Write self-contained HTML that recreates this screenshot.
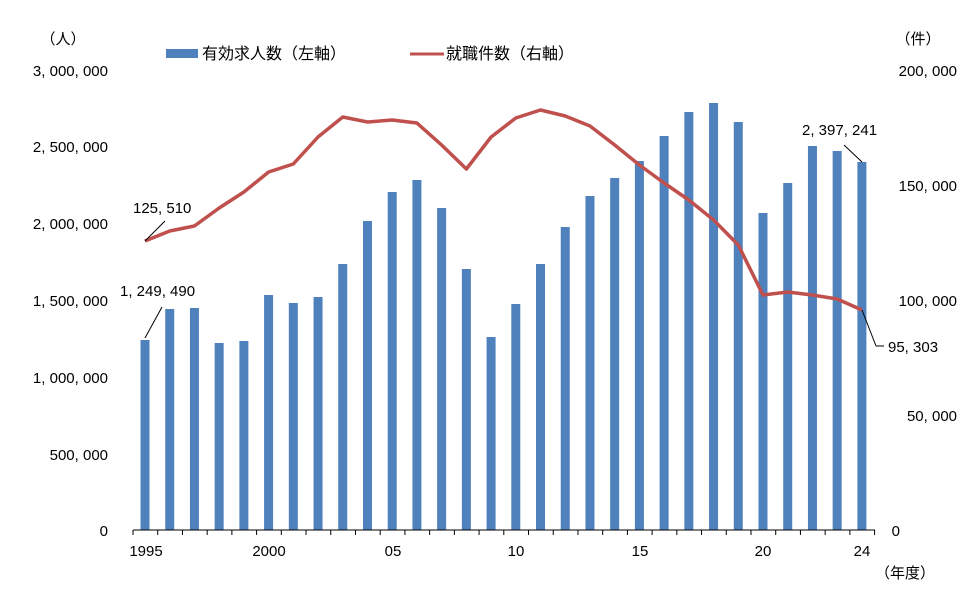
<!DOCTYPE html>
<html><head><meta charset="utf-8"><style>
body{margin:0;background:#fff;}
svg{display:block;font-family:"Liberation Sans","Noto Sans CJK JP",sans-serif;}
</style></head><body>
<svg width="975" height="600" xmlns="http://www.w3.org/2000/svg">
<g font-size="15" fill="#000">
<text x="63" y="44" text-anchor="middle" font-family="Noto Sans CJK JP,sans-serif">（人）</text>
<text x="918" y="44" text-anchor="middle" font-family="Noto Sans CJK JP,sans-serif">（件）</text>
<g text-anchor="end">
<text x="108" y="76">3, 000, 000</text>
<text x="108" y="152">2, 500, 000</text>
<text x="108" y="229">2, 000, 000</text>
<text x="108" y="306">1, 500, 000</text>
<text x="108" y="383">1, 000, 000</text>
<text x="108" y="460">500, 000</text>
<text x="108" y="536">0</text>
</g>
<g text-anchor="end">
<text x="957" y="76">200, 000</text>
<text x="957" y="191">150, 000</text>
<text x="957" y="306">100, 000</text>
<text x="957" y="421">50, 000</text>
<text x="900" y="536">0</text>
</g>
<g text-anchor="middle">
<text x="146" y="556">1995</text>
<text x="269" y="556">2000</text>
<text x="393" y="556">05</text>
<text x="516" y="556">10</text>
<text x="640" y="556">15</text>
<text x="763" y="556">20</text>
<text x="862" y="556">24</text>
</g>
<text x="905" y="578" text-anchor="middle" font-family="Noto Sans CJK JP,sans-serif">（年度）</text>
<rect x="166" y="49" width="32" height="9" fill="#4f81bd"/>
<text x="202" y="59" font-size="16" font-family="Noto Sans CJK JP,sans-serif">有効求人数（左軸）</text>
<line x1="410" y1="54" x2="444" y2="54" stroke="#c0504d" stroke-width="3"/>
<text x="446" y="59" font-size="16" font-family="Noto Sans CJK JP,sans-serif">就職件数（右軸）</text>
</g>
<g id="bars" fill="#4f81bd"></g>
<line x1="133" y1="530" x2="875" y2="530" stroke="#000" stroke-width="1"/>
<g id="ticks" stroke="#000" stroke-width="1"></g>
<polyline id="ln" fill="none" stroke="#c0504d" stroke-width="3.5" stroke-linejoin="round"/>
<g stroke="#000" stroke-width="1">
<line x1="145" y1="241" x2="165" y2="221"/>
<line x1="145" y1="338" x2="162" y2="307"/>
<line x1="862" y1="162" x2="844" y2="145"/>
<line x1="862" y1="310" x2="876" y2="346"/><line x1="876" y1="346" x2="884" y2="346"/>
</g>
<g font-size="15">
<text x="133" y="213">125, 510</text>
<text x="120" y="296">1, 249, 490</text>
<text x="802" y="135">2, 397, 241</text>
<text x="888" y="352">95, 303</text>
</g>
<script>
var tops=[340,309,308,343,341,295,303,297,264,221,192,180,208,269,337,304,264,227,196,178,161,136,112,103,122,213,183,146,151,162];
var ln=[241,231,226,208,192,172,164,137,117,122,120,123,145,169,137,118,110,116,126,145,165,183,200,220,245,295,292,295,299,310];
var b=document.getElementById('bars'),t=document.getElementById('ticks'),ns="http://www.w3.org/2000/svg",pts=[];
for(var i=0;i<30;i++){var cx=145+i*24.72;
var r=document.createElementNS(ns,'rect');r.setAttribute('x',cx-4.5);r.setAttribute('y',tops[i]);r.setAttribute('width',9);r.setAttribute('height',530-tops[i]);b.appendChild(r);
pts.push(cx.toFixed(1)+','+ln[i]);}
for(var i=0;i<=30;i++){var x=133+i*24.72;var l=document.createElementNS(ns,'line');l.setAttribute('x1',x);l.setAttribute('x2',x);l.setAttribute('y1',530);l.setAttribute('y2',535);t.appendChild(l);}
document.getElementById('ln').setAttribute('points',pts.join(' '));
</script>
</svg>
</body></html>
